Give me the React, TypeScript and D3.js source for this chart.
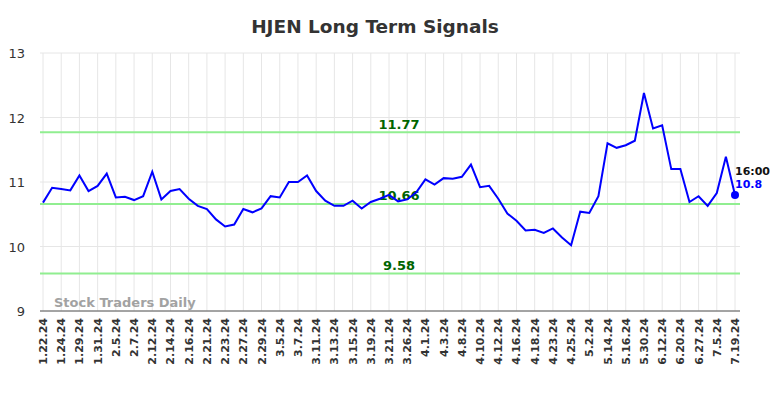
import React from 'react';
import * as d3 from 'd3';

// tick labels (every second point is labelled)
const dateLabels = [
  '1.22.24', '1.24.24', '1.29.24', '1.31.24', '2.5.24', '2.7.24', '2.12.24', '2.14.24',
  '2.16.24', '2.21.24', '2.23.24', '2.27.24', '2.29.24', '3.5.24', '3.7.24', '3.11.24',
  '3.13.24', '3.15.24', '3.19.24', '3.21.24', '3.26.24', '4.1.24', '4.3.24', '4.8.24',
  '4.10.24', '4.12.24', '4.16.24', '4.18.24', '4.23.24', '4.25.24', '5.2.24', '5.14.24',
  '5.16.24', '5.30.24', '6.12.24', '6.20.24', '6.27.24', '7.5.24', '7.19.24',
];

// closing prices
const prices = [
  10.68, 10.91, 10.89, 10.87, 11.10, 10.86, 10.94, 11.13, 10.76, 10.77,
  10.72, 10.78, 11.16, 10.73, 10.86, 10.89, 10.74, 10.63, 10.58, 10.42,
  10.31, 10.34, 10.58, 10.53, 10.59, 10.78, 10.76, 11.00, 11.00, 11.10,
  10.86, 10.71, 10.63, 10.63, 10.71, 10.59, 10.69, 10.74, 10.80, 10.70,
  10.73, 10.84, 11.04, 10.96, 11.06, 11.05, 11.08, 11.27, 10.92, 10.94,
  10.74, 10.51, 10.40, 10.25, 10.26, 10.21, 10.28, 10.14, 10.02, 10.54,
  10.52, 10.78, 11.60, 11.53, 11.57, 11.64, 12.38, 11.83, 11.88, 11.20,
  11.20, 10.69, 10.78, 10.63, 10.83, 11.39, 10.80,
];

const signalLevels = [11.77, 10.66, 9.58];
const yTicks = [9, 10, 11, 12, 13];

const W = 784, H = 398;
const font = 'DejaVu Sans, sans-serif';

export default function App() {
  const x = d3.scaleLinear().domain([0, prices.length - 1]).range([43, 735]);
  const y = d3.scaleLinear().domain([9, 13]).range([311, 53]);
  const left = 40, right = 740;

  const line = d3.line<number>()
    .x((_, i) => x(i))
    .y(d => y(d));

  const last = prices.length - 1;
  const labelX = 399;

  return (
    <svg width={W} height={H} style={{ position: 'absolute', left: 0, top: 0 }}>
      <rect width={W} height={H} fill="#fff" />
      <text x={375} y={33} textAnchor="middle" fontFamily={font} fontWeight="bold" fontSize={18.5} fill="#333">
        HJEN Long Term Signals
      </text>

      {/* grid */}
      {yTicks.map(t => (
        <g key={t}>
          <line x1={left} x2={right} y1={y(t)} y2={y(t)} stroke="#e6e6e6" strokeWidth={1} />
          <text x={25} y={y(t) + 5} textAnchor="end" fontFamily={font} fontSize={13} fill="#333">{t}</text>
        </g>
      ))}
      {dateLabels.map((lab, k) => (
        <g key={lab}>
          <line x1={x(k * 2)} x2={x(k * 2)} y1={53} y2={311} stroke="#e6e6e6" strokeWidth={1} />
          <text
            transform={`translate(${x(k * 2) + 4},318) rotate(-90)`}
            textAnchor="end"
            fontFamily={font}
            fontSize={11}
            fontWeight="bold"
            fill="#333"
          >{lab}</text>
        </g>
      ))}

      <text x={54} y={307} fontFamily={font} fontWeight="bold" fontSize={13} fill="#999" opacity={0.9}>
        Stock Traders Daily
      </text>

      {/* signal levels */}
      {signalLevels.map(v => (
        <g key={v}>
          <line x1={left} x2={right} y1={y(v)} y2={y(v)} stroke="#90ee90" strokeWidth={2} />
          <text x={labelX} y={y(v) - 3.5} textAnchor="middle" fontFamily={font} fontWeight="bold" fontSize={13} fill="#006400">
            {v.toFixed(2)}
          </text>
        </g>
      ))}

      <path d={line(prices) || ''} fill="none" stroke="#0000ff" strokeWidth={2} />
      <circle cx={x(last)} cy={y(prices[last])} r={4} fill="#0000ff" />
      <text x={x(last)} y={175} fontFamily={font} fontWeight="bold" fontSize={11} fill="#111">16:00</text>
      <text x={x(last)} y={188} fontFamily={font} fontWeight="bold" fontSize={11} fill="#0000ff">{prices[last]}</text>

      <line x1={left} x2={right} y1={311} y2={311} stroke="#555" strokeWidth={1} />
    </svg>
  );
}
